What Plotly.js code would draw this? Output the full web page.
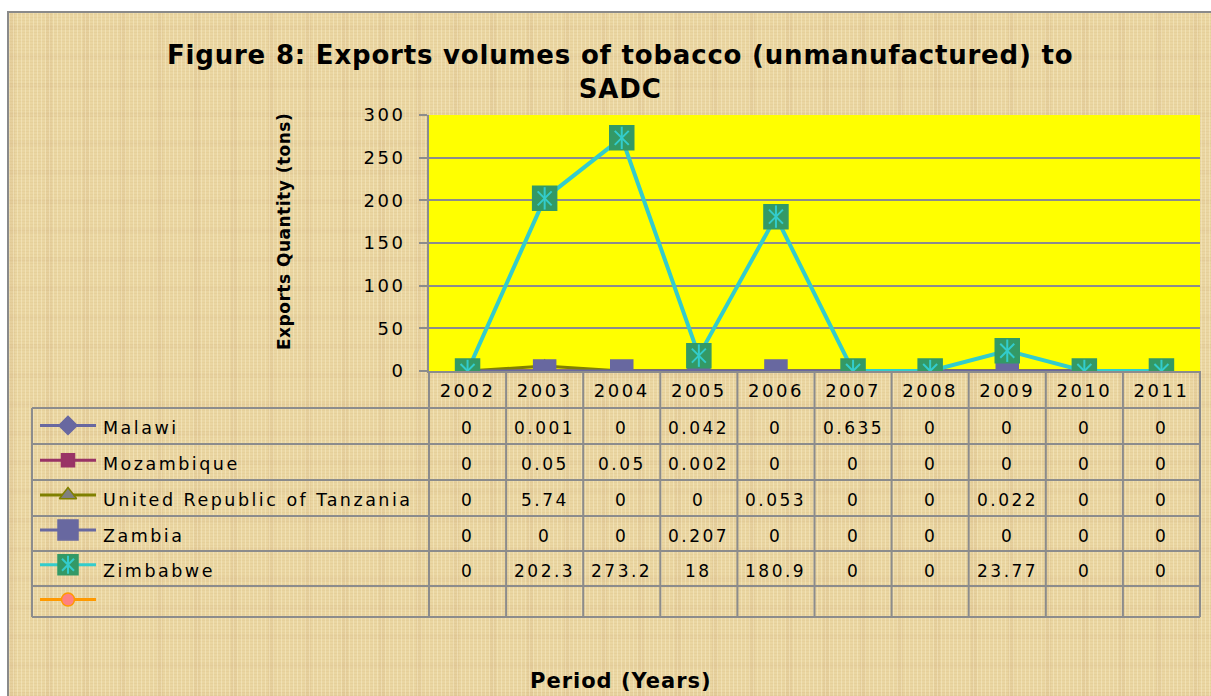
<!DOCTYPE html>
<html><head><meta charset="utf-8">
<script src="https://cdn.plot.ly/plotly-3.0.1.min.js"></script>
<style>
html,body{margin:0;padding:0;background:#fff;overflow:hidden;width:1211px;height:696px;}
#bg{position:absolute;left:7px;top:11px;width:1300px;height:800px;border-left:2px solid #8a8a8a;border-top:2px solid #8a8a8a;
background-color:#EAD6A2;
background-image:
 repeating-linear-gradient(90deg, rgba(255,246,215,0.35) 0px, rgba(255,246,215,0.35) 1px, transparent 1px, transparent 4px),
 repeating-linear-gradient(0deg, rgba(200,165,100,0.12) 0px, rgba(200,165,100,0.12) 1px, transparent 1px, transparent 3px),
 repeating-linear-gradient(90deg, rgba(190,150,110,0.10) 0px, rgba(190,150,110,0.10) 6px, transparent 6px, transparent 37px),
 repeating-linear-gradient(0deg, rgba(190,150,110,0.08) 0px, rgba(190,150,110,0.08) 5px, transparent 5px, transparent 29px);}
#chart{position:absolute;left:0;top:0;width:1211px;height:696px;}
.annotation-text,.xtick text,.ytick text{letter-spacing:2.5px;}
</style></head>
<body>
<div id="bg"></div>
<div id="chart"></div>
<script>
// ---- data ----
const years = ['2002','2003','2004','2005','2006','2007','2008','2009','2010','2011'];
const malawi     = [0, 0.001, 0,     0.042, 0,     0.635, 0, 0,     0, 0];
const mozambique = [0, 0.05,  0.05,  0.002, 0,     0,     0, 0,     0, 0];
const tanzania   = [0, 5.74,  0,     0,     0.053, 0,     0, 0.022, 0, 0];
const zambia     = [0, 0,     0,     0.207, 0,     0,     0, 0,     0, 0];
const zimbabwe   = [0, 202.3, 273.2, 18,    180.9, 0,     0, 23.77, 0, 0];
const seriesNames = ['Malawi','Mozambique','United Republic of Tanzania','Zambia','Zimbabwe',''];
const yTicks = [0, 50, 100, 150, 200, 250, 300];

const W = 1211, H = 696;
const px = v => v / W;
const py = v => 1 - v / H;
const GRID = '#8c8c8c';
const BODY = 'DejaVu Sans, Noto Sans, sans-serif';
const BOLD = 'DejaVu Sans, Liberation Sans, Arial, sans-serif';

const series = [malawi, mozambique, tanzania, zambia, zimbabwe, []];
const styles = [
  {line:'#6868A0', lw:3, sym:'diamond', size:12, lsize:14, fill:'#6868A0', ol:'#6868A0'},
  {line:'#993366', lw:3, sym:'square', size:10, lsize:13, fill:'#993366', ol:'#993366'},
  {line:'#808000', lw:3, sym:'triangle-up', size:12, lsize:15, fill:'#808080', ol:'#808000'},
  {line:'#6868A0', lw:3, sym:'square', size:22, lsize:20, fill:'#6868A0', ol:'#6868A0'},
  {line:'#33CCCC', lw:4, sym:'square', size:24, lsize:20, fill:'#339966', ol:'#339966'},
  {line:'#FF9900', lw:3, sym:'circle', size:12, lsize:13, fill:'#FF8080', ol:'#FF9900'}
];

const traces = [];
for (let i = 0; i < 5; i++) {
  const s = styles[i];
  traces.push({
    type:'scatter', mode:'lines+markers', name:seriesNames[i], x:years, y:series[i],
    line:{color:s.line, width:s.lw},
    marker:{symbol:s.sym, size:s.size, color:s.fill, opacity:1, line:{color:s.ol, width:1.5}},
    showlegend:false, xaxis:'x', yaxis:'y', hoverinfo:'x+y+name'
  });
}
// asterisk overlay on Zimbabwe markers
traces.push({type:'scatter', mode:'markers', x:years, y:zimbabwe, showlegend:false, hoverinfo:'skip',
  marker:{symbol:'x-thin-open', size:14, color:'#33CCCC', line:{color:'#33CCCC', width:2}}});
traces.push({type:'scatter', mode:'markers', x:years, y:zimbabwe, showlegend:false, hoverinfo:'skip',
  marker:{symbol:'line-ns-open', size:16, color:'#33CCCC', line:{color:'#33CCCC', width:2}}});

// legend keys in the table's first column (xaxis2 / yaxis2)
for (let i = 0; i < 6; i++) {
  const s = styles[i];
  traces.push({type:'scatter', mode:'lines', x:[0,1], y:[i+0.5,i+0.5],
    xaxis:'x2', yaxis:'y2', showlegend:false, hoverinfo:'skip',
    line:{color:s.line, width:3}});
  traces.push({type:'scatter', mode:'markers', x:[0.5], y:[i+0.5],
    xaxis:'x2', yaxis:'y2', showlegend:false, hoverinfo:'skip',
    marker:{symbol:s.sym, size:s.lsize, color:s.fill, opacity:1, line:{color:s.ol, width:1.5}}});
}
traces.push({type:'scatter', mode:'markers', x:[0.5], y:[4.5], xaxis:'x2', yaxis:'y2', showlegend:false, hoverinfo:'skip',
  marker:{symbol:'x-thin-open', size:12, color:'#33CCCC', line:{color:'#33CCCC', width:2}}});
traces.push({type:'scatter', mode:'markers', x:[0.5], y:[4.5], xaxis:'x2', yaxis:'y2', showlegend:false, hoverinfo:'skip',
  marker:{symbol:'line-ns-open', size:13, color:'#33CCCC', line:{color:'#33CCCC', width:2}}});

// table geometry
const colL = 429, colW = 77.1;
const rowB = [408, 444, 480, 516, 551, 586, 617];
const shapes = [{type:'rect', xref:'x domain', yref:'y domain', x0:0, x1:1, y0:0, y1:1,
  fillcolor:'#FFFF00', line:{width:0}, layer:'below'}];
const lineSh = (x0,y0,x1,y1) => ({type:'line', xref:'paper', yref:'paper', x0:px(x0), y0:py(y0), x1:px(x1), y1:py(y1), line:{color:GRID, width:2}});
for (const r of rowB) shapes.push(lineSh(32, r, colL + 10*colW, r));
shapes.push(lineSh(32, 408, 32, 617));
for (let k = 0; k <= 10; k++) shapes.push(lineSh(colL + k*colW, 371, colL + k*colW, 617));

const annotations = [];
const rowC = [];
for (let r = 0; r < 6; r++) rowC.push((rowB[r] + rowB[r+1]) / 2 + 2);
const valFont = {family:BODY, size:17, color:'#000'};
for (let r = 0; r < 5; r++) {
  for (let c = 0; c < years.length; c++) {
    annotations.push({xref:'x', yref:'paper', x:c, y:py(rowC[r]), text:String(series[r][c]),
      showarrow:false, xanchor:'center', yanchor:'middle', font:valFont});
  }
}
for (let r = 0; r < 6; r++) {
  if (!seriesNames[r]) continue;
  annotations.push({xref:'paper', yref:'paper', x:px(101), y:py(rowC[r]), text:seriesNames[r],
    showarrow:false, xanchor:'left', yanchor:'middle', font:{family:BODY, size:17.5, color:'#000'}});
}
annotations.push({xref:'paper', yref:'paper', x:px(620), y:py(72), xanchor:'center', yanchor:'middle', showarrow:false,
  text:'<span style="letter-spacing:0.8px"><b>Figure 8: Exports volumes of tobacco (unmanufactured) to<br>SADC</b></span>',
  font:{family:BOLD, size:26, color:'#000'}});
annotations.push({xref:'paper', yref:'paper', x:px(284), y:py(232), xanchor:'center', yanchor:'middle', showarrow:false, textangle:-90,
  text:'<span style="letter-spacing:0.5px"><b>Exports Quantity (tons)</b></span>', font:{family:BOLD, size:17, color:'#000'}});
annotations.push({xref:'paper', yref:'paper', x:px(621), y:py(681), xanchor:'center', yanchor:'middle', showarrow:false,
  text:'<span style="letter-spacing:1px"><b>Period (Years)</b></span>', font:{family:BOLD, size:21, color:'#000'}});

const layout = {
  width:W, height:H, margin:{l:0, r:0, t:0, b:0},
  paper_bgcolor:'rgba(0,0,0,0)', plot_bgcolor:'rgba(0,0,0,0)',
  showlegend:false,
  xaxis:{type:'category', domain:[px(colL), px(colL + 10*colW)], range:[-0.5, 9.5], anchor:'y',
    showgrid:false, zeroline:false, showline:true, linecolor:GRID, linewidth:2, layer:'below traces',
    ticks:'', tickfont:{family:BODY, size:18, color:'#000'}, ticklabelstandoff:2, fixedrange:true},
  yaxis:{domain:[py(371), py(115)], range:[0, 300], tickvals:yTicks, anchor:'x',
    showgrid:true, gridcolor:GRID, gridwidth:2, zeroline:false, showline:true, linecolor:GRID, linewidth:2,
    ticks:'outside', ticklen:8, tickwidth:2, tickcolor:GRID, ticklabelstandoff:10,
    tickfont:{family:BODY, size:18, color:'#000'}, fixedrange:true},
  xaxis2:{domain:[px(40), px(96)], range:[0,1], anchor:'y2', visible:false, fixedrange:true},
  yaxis2:{domain:[py(617), py(408)], range:[6,0], anchor:'x2', visible:false, fixedrange:true},
  shapes:shapes, annotations:annotations
};
Plotly.newPlot('chart', traces, layout, {displayModeBar:false, staticPlot:true});
</script>
</body></html>
